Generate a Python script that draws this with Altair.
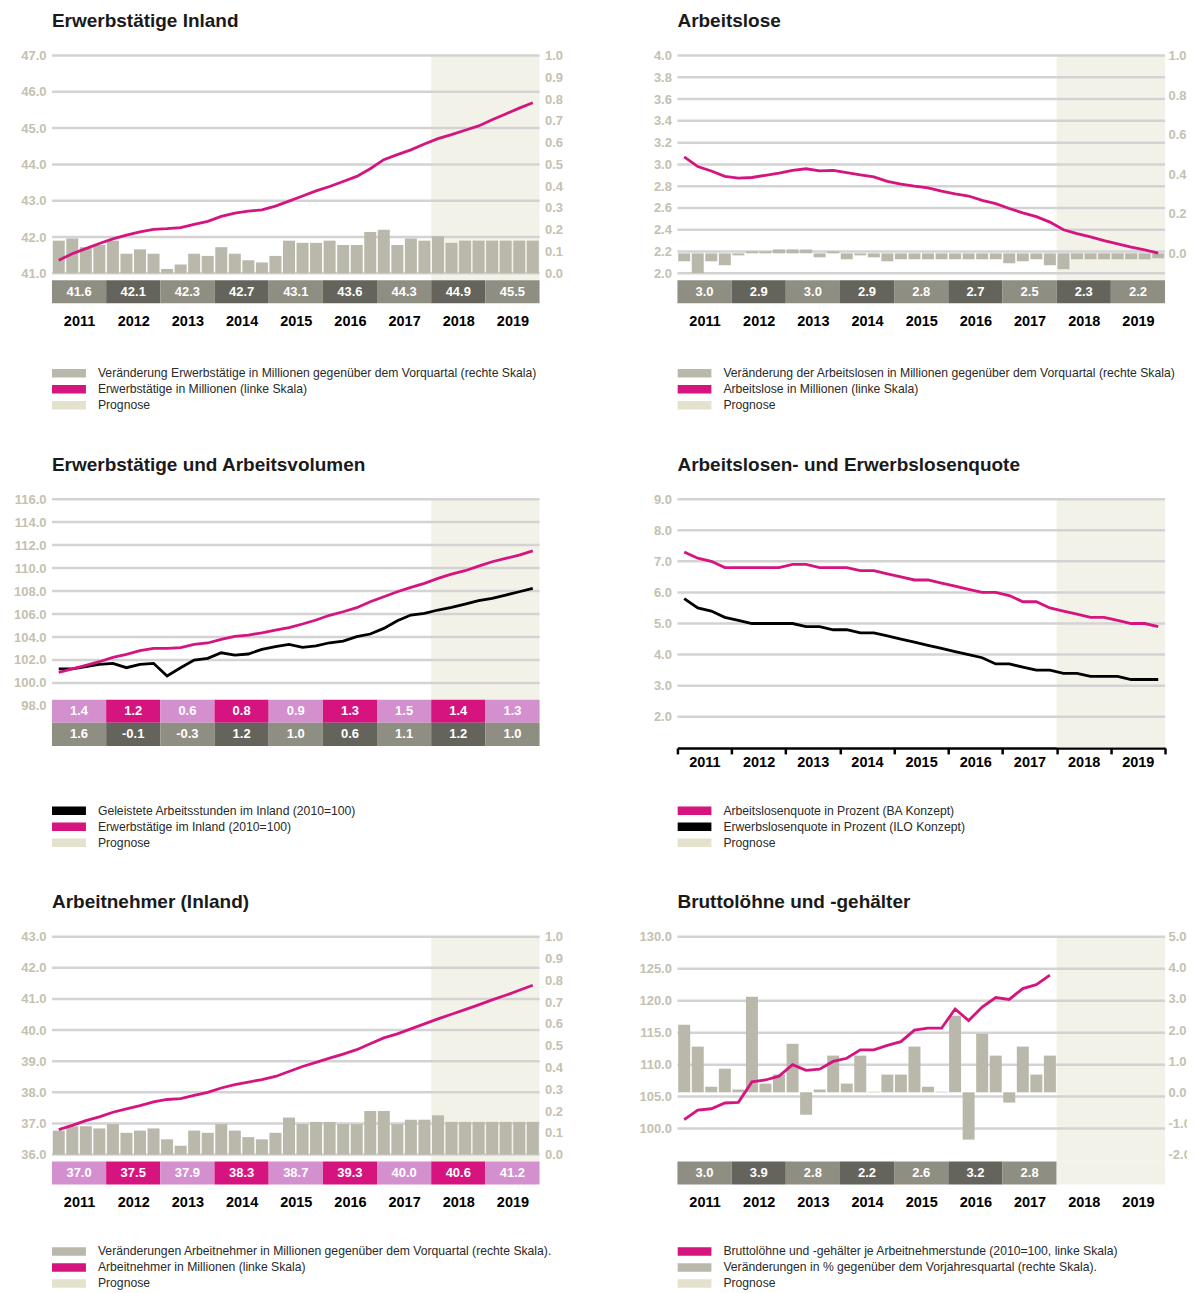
import altair as alt
import pandas as pd

# ---------------- data ----------------
YEARS = list(range(2011, 2020))
QUARTERS = [f"{y}-Q{q}" for y in YEARS for q in (1, 2, 3, 4)]
FORECAST_START = 2018

# Erwerbstätige Inland
EMP_LINE = [41.36, 41.54, 41.68, 41.82, 41.95, 42.05, 42.14, 42.21, 42.23, 42.26, 42.35, 42.43,
            42.57, 42.66, 42.71, 42.75, 42.85, 42.99, 43.13, 43.27, 43.39, 43.53, 43.67, 43.88,
            44.13, 44.27, 44.40, 44.56, 44.71, 44.82, 44.94, 45.06, 45.23, 45.39, 45.55, 45.70]
EMP_CHANGE = [0.15, 0.16, 0.12, 0.13, 0.15, 0.09, 0.11, 0.09, 0.02, 0.04, 0.09, 0.08,
              0.12, 0.09, 0.06, 0.05, 0.08, 0.15, 0.14, 0.14, 0.15, 0.13, 0.13, 0.19,
              0.20, 0.13, 0.16, 0.15, 0.17, 0.14, 0.15, 0.15, 0.15, 0.15, 0.15, 0.15]
EMP_ANNUAL = [41.6, 42.1, 42.3, 42.7, 43.1, 43.6, 44.3, 44.9, 45.5]

# Arbeitslose
UNEMP_LINE = [3.07, 2.98, 2.94, 2.89, 2.875, 2.88, 2.90, 2.92, 2.945, 2.96, 2.94, 2.945,
              2.925, 2.905, 2.885, 2.845, 2.82, 2.80, 2.785, 2.755, 2.73, 2.71, 2.67, 2.64,
              2.595, 2.555, 2.52, 2.47, 2.40, 2.365, 2.335, 2.30, 2.27, 2.24, 2.215, 2.185]
UNEMP_CHANGE = [-0.04, -0.10, -0.04, -0.06, -0.01, 0.01, 0.01, 0.02, 0.02, 0.02, -0.02, 0.01,
                -0.03, -0.01, -0.02, -0.04, -0.03, -0.03, -0.03, -0.03, -0.03, -0.03, -0.03, -0.03,
                -0.05, -0.04, -0.03, -0.06, -0.08, -0.03, -0.03, -0.03, -0.03, -0.03, -0.03, -0.025]
UNEMP_ANNUAL = [3.0, 2.9, 3.0, 2.9, 2.8, 2.7, 2.5, 2.3, 2.2]

# Erwerbstätige und Arbeitsvolumen (2010=100)
EMP_INDEX = [100.93, 101.22, 101.54, 101.85, 102.23, 102.49, 102.81, 103.01, 103.01, 103.07, 103.36, 103.48,
             103.80, 104.06, 104.17, 104.37, 104.60, 104.81, 105.13, 105.48, 105.89, 106.20, 106.55, 107.07,
             107.50, 107.94, 108.32, 108.67, 109.10, 109.48, 109.77, 110.17, 110.55, 110.84, 111.13, 111.50]
HOURS_INDEX = [101.22, 101.22, 101.42, 101.62, 101.71, 101.33, 101.62, 101.71, 100.61, 101.33, 102.00, 102.14,
               102.63, 102.43, 102.52, 102.93, 103.16, 103.36, 103.10, 103.22, 103.50, 103.65, 104.03, 104.26,
               104.75, 105.41, 105.91, 106.06, 106.35, 106.58, 106.87, 107.16, 107.36, 107.65, 107.94, 108.23]
EMP_GROWTH = [1.4, 1.2, 0.6, 0.8, 0.9, 1.3, 1.5, 1.4, 1.3]
HOURS_GROWTH = [1.6, -0.1, -0.3, 1.2, 1.0, 0.6, 1.1, 1.2, 1.0]

# Arbeitslosen- und Erwerbslosenquote
BA_RATE = [7.3, 7.1, 7.0, 6.8, 6.8, 6.8, 6.8, 6.8, 6.9, 6.9, 6.8, 6.8,
           6.8, 6.7, 6.7, 6.6, 6.5, 6.4, 6.4, 6.3, 6.2, 6.1, 6.0, 6.0,
           5.9, 5.7, 5.7, 5.5, 5.4, 5.3, 5.2, 5.2, 5.1, 5.0, 5.0, 4.9]
ILO_RATE = [5.8, 5.5, 5.4, 5.2, 5.1, 5.0, 5.0, 5.0, 5.0, 4.9, 4.9, 4.8,
            4.8, 4.7, 4.7, 4.6, 4.5, 4.4, 4.3, 4.2, 4.1, 4.0, 3.9, 3.7,
            3.7, 3.6, 3.5, 3.5, 3.4, 3.4, 3.3, 3.3, 3.3, 3.2, 3.2, 3.2]

# Arbeitnehmer (Inland)
EMPL_LINE = [36.80, 36.94, 37.09, 37.21, 37.36, 37.47, 37.57, 37.69, 37.77, 37.80, 37.90, 38.00,
             38.14, 38.25, 38.33, 38.41, 38.51, 38.67, 38.83, 38.96, 39.10, 39.23, 39.37, 39.56,
             39.75, 39.88, 40.04, 40.20, 40.36, 40.51, 40.66, 40.81, 40.97, 41.12, 41.28, 41.44]
EMPL_CHANGE = [0.11, 0.13, 0.13, 0.12, 0.14, 0.10, 0.11, 0.12, 0.07, 0.04, 0.11, 0.10,
               0.14, 0.11, 0.08, 0.07, 0.10, 0.17, 0.14, 0.15, 0.15, 0.14, 0.14, 0.20,
               0.20, 0.14, 0.16, 0.16, 0.18, 0.15, 0.15, 0.15, 0.15, 0.15, 0.15, 0.15]
EMPL_ANNUAL = [37.0, 37.5, 37.9, 38.3, 38.7, 39.3, 40.0, 40.6, 41.2]

# Bruttolöhne und -gehälter
WAGE_INDEX = [101.4, 102.9, 103.1, 104.0, 104.1, 107.3, 107.6, 108.2, 110.0, 109.1, 109.3, 110.5,
              111.0, 112.3, 112.3, 113.0, 113.6, 115.4, 115.7, 115.7, 118.7, 116.9, 119.0, 120.5,
              120.2, 121.9, 122.5, 124.0]
WAGE_CHANGE = [2.17, 1.47, 0.18, 0.76, 0.09, 3.07, 0.28, 0.57, 1.56, -0.72, 0.09, 1.18,
               0.28, 1.18, 0.02, 0.57, 0.57, 1.47, 0.18, 0.02, 2.46, -1.52, 1.88, 1.18,
               -0.33, 1.47, 0.57, 1.18]
WAGE_ANNUAL = [3.0, 3.9, 2.8, 2.2, 2.6, 3.2, 2.8]

# ---------------- styles ----------------
FONT = "Liberation Sans, Arial, sans-serif"
NARROW = "Liberation Sans Narrow, Arial Narrow, Liberation Sans, sans-serif"
MAGENTA = "#d5147f"
BARGRAY = "#bab8aa"
SHADE = "#e4e2cc"
SHADE_SOLID = "#f3f2e9"
GRID = "#d3d3d3"
AXIS_GRAY = "#c4c1b1"
BOX_LIGHT = "#8f8e82"
BOX_DARK = "#65645c"
BOX_PINK = "#d48fcf"
BLACK = "#000000"
GRAYS = (BOX_LIGHT, BOX_DARK)
PINKS = (BOX_PINK, MAGENTA)

W = 488
XDOM = [2011, 2020]
XSCALE = alt.Scale(domain=XDOM, nice=False, zero=False, padding=0)

AX = dict(domain=False, ticks=False, tickSize=0, grid=False, labelFont=FONT, labelFontSize=13,
          labelFontWeight="bold", labelColor=AXIS_GRAY, labelOverlap=False,
          labelExpr="replace(datum.label, '\u2212', '-')")

YEAR_AXIS = alt.Axis(orient="bottom", values=[y + 0.5 for y in YEARS],
                     labelExpr="'' + floor(datum.value)", domain=False, ticks=False,
                     tickSize=0, grid=False, labelPadding=11, labelFont=FONT,
                     labelFontSize=14.5, labelFontWeight="bold", labelColor=BLACK,
                     labelFlush=False, labelOverlap=False, title=None)


def left_axis(ticks):
    return alt.Axis(orient="left", values=ticks, format=".1f", labelPadding=6,
                    title=" ", titleX=-44, titleY=0, titleAngle=0, titleAlign="left",
                    titleBaseline="top", titleFontSize=1, **AX)


def right_axis(ticks, pad):
    return alt.Axis(orient="right", values=ticks, format=".1f", labelPadding=pad, title=None, **AX)


def qframe(values, name):
    qs = QUARTERS[:len(values)]
    return pd.DataFrame({
        "quarter": qs,
        "t": [int(q[:4]) + (int(q[-1]) - 0.5) / 4 for q in qs],
        "value": values,
        "zero": 0.0,
        "series": name,
    })


def make_legend(y):
    return alt.Legend(title=None, orient="none", legendX=0, legendY=y, direction="vertical",
                      symbolType="M-1,-0.25H1V0.25H-1Z", symbolSize=1156, symbolOpacity=1,
                      symbolStrokeWidth=0, clipHeight=16, rowPadding=0, labelOffset=12,
                      labelFont=NARROW, labelFontSize=12.2, labelColor="#2a2a2a",
                      labelLimit=700, padding=0)


def box_frame(rows):
    recs = []
    n = len(rows)
    for r, (vals, pal) in enumerate(rows):
        for i, y in enumerate(YEARS):
            has = i < len(vals)
            lo = n - 1 - r
            recs.append({"row": r, "lo": lo, "hi": lo + 1, "rmid": lo + 0.5,
                         "start": y, "end": y + 1, "mid": y + 0.5,
                         "label": f"{vals[i]:.1f}" if has else "",
                         "fill": pal[i % 2] if has else SHADE_SOLID})
    return pd.DataFrame(recs)


def text_mark(df):
    return alt.Chart(df).mark_text(font=FONT, fontSize=13, fontWeight="bold", color="white",
                                   align="center", baseline="middle")


def build_boxes(rows):
    df = box_frame(rows)
    yscale = alt.Scale(domain=list(range(len(rows))), paddingInner=0, paddingOuter=0)
    rect = alt.Chart(df).mark_rect().encode(
        x=alt.X("start:Q", scale=XSCALE, axis=YEAR_AXIS), x2=alt.X2("end"),
        y=alt.Y("row:O", scale=yscale, axis=None),
        fill=alt.Fill("fill:N", scale=None))
    text = text_mark(df).encode(
        x=alt.X("mid:Q", scale=XSCALE, axis=YEAR_AXIS),
        y=alt.Y("row:O", scale=yscale, axis=None),
        text="label:N")
    return alt.layer(rect, text).properties(width=W, height=23 * len(rows))


def inner_boxes(rows, rows_in_height):
    # box rows sit at the bottom of the panel, on a row-unit scale
    df = box_frame(rows)
    yscale = alt.Scale(domain=[0, rows_in_height], nice=False, zero=False)
    rect = alt.Chart(df).mark_rect().encode(
        x=alt.X("start:Q", scale=XSCALE, axis=YEAR_AXIS), x2=alt.X2("end"),
        y=alt.Y("lo:Q", scale=yscale, axis=None), y2=alt.Y2("hi"),
        fill=alt.Fill("fill:N", scale=None))
    text = text_mark(df).encode(
        x=alt.X("mid:Q", scale=XSCALE, axis=YEAR_AXIS),
        y=alt.Y("rmid:Q", scale=yscale, axis=None),
        text="label:N")
    return alt.layer(rect, text)


def build_main(title, height, left_dom, left_ticks, grid_vals, legend_labels, legend_colors,
               legend_y, lines, bars=None, right_dom=None, right_ticks=None, right_pad=5,
               xaxis=None, boxes=None):
    cscale = alt.Scale(domain=legend_labels, range=legend_colors)
    lscale = alt.Scale(domain=left_dom, nice=False, zero=False)
    laxis = left_axis(left_ticks)

    shade_df = pd.DataFrame({"start": [FORECAST_START], "end": [XDOM[1]],
                             "top": [left_dom[1]], "bottom": [left_dom[0]],
                             "series": [legend_labels[-1]]})
    shade = alt.Chart(shade_df).mark_rect(opacity=0.44).encode(
        x=alt.X("start:Q", scale=XSCALE, axis=xaxis), x2=alt.X2("end"),
        y=alt.Y("top:Q", scale=lscale, axis=laxis), y2=alt.Y2("bottom"),
        color=alt.Color("series:N", scale=cscale, legend=make_legend(legend_y)))

    grid_df = pd.DataFrame({"v": grid_vals, "a": XDOM[0], "b": XDOM[1]})
    grid = alt.Chart(grid_df).mark_rule(color=GRID, strokeWidth=2.5).encode(
        x=alt.X("a:Q", scale=XSCALE, axis=xaxis), x2=alt.X2("b"),
        y=alt.Y("v:Q", scale=lscale, axis=laxis))

    line_df = pd.concat([qframe(v, n) for v, n in lines])
    if bars is None:
        line = alt.Chart(line_df).mark_line(strokeWidth=2.8).encode(
            x=alt.X("t:Q", scale=XSCALE, axis=xaxis),
            y=alt.Y("value:Q", scale=lscale, axis=laxis),
            color=alt.Color("series:N", scale=cscale, legend=None))
        main = alt.layer(shade, grid, line)
        if boxes is not None:
            main = alt.layer(main, boxes).resolve_scale(y="independent")
    else:
        line = alt.Chart(line_df).mark_line(strokeWidth=2.8).encode(
            x=alt.X("t:Q", scale=XSCALE, axis=xaxis),
            y=alt.Y("value:Q", scale=lscale, axis=None),
            color=alt.Color("series:N", scale=cscale, legend=None))
        rscale = alt.Scale(domain=right_dom, nice=False, zero=False)
        bar_df = qframe(bars[0], bars[1])
        bar = alt.Chart(bar_df).mark_bar(size=12).encode(
            x=alt.X("t:Q", scale=XSCALE, axis=xaxis),
            y=alt.Y("value:Q", scale=rscale, axis=right_axis(right_ticks, right_pad)),
            y2=alt.Y2("zero"),
            color=alt.Color("series:N", scale=cscale, legend=None))
        main = alt.layer(alt.layer(shade, grid), bar, line).resolve_scale(y="independent")
    return main.properties(
        width=W, height=height,
        title=alt.Title(text=title, anchor="start", frame="group", orient="top", offset=0.5, dy=-3,
                        baseline="alphabetic", font=FONT, fontSize=19, fontWeight="bold",
                        color="#1a1a1a"))


# ---------------- panels ----------------
L1 = ["Veränderung Erwerbstätige in Millionen gegenüber dem Vorquartal (rechte Skala)",
      "Erwerbstätige in Millionen (linke Skala)", "Prognose"]
p1_main = build_main("Erwerbstätige Inland", 225, [40.807, 47], [41, 42, 43, 44, 45, 46, 47],
                     [41, 42, 43, 44, 45, 46, 47], L1, [BARGRAY, MAGENTA, SHADE], 310,
                     lines=[(EMP_LINE, L1[1])], bars=(EMP_CHANGE, L1[0]),
                     right_dom=[-0.0321, 1.0],
                     right_ticks=[0, 0.1, 0.2, 0.3, 0.4, 0.5, 0.6, 0.7, 0.8, 0.9, 1.0])
p1 = alt.vconcat(p1_main, build_boxes([(EMP_ANNUAL, GRAYS)]), spacing=0, bounds="flush")

L2 = ["Veränderung der Arbeitslosen in Millionen gegenüber dem Vorquartal (rechte Skala)",
      "Arbeitslose in Millionen (linke Skala)", "Prognose"]
T2 = [2.0, 2.2, 2.4, 2.6, 2.8, 3.0, 3.2, 3.4, 3.6, 3.8, 4.0]
p2_main = build_main("Arbeitslose", 225, [1.9358, 4.0], T2, T2, L2, [BARGRAY, MAGENTA, SHADE], 310,
                     lines=[(UNEMP_LINE, L2[1])], bars=(UNEMP_CHANGE, L2[0]),
                     right_dom=[-0.1362, 1.0], right_ticks=[0, 0.2, 0.4, 0.6, 0.8, 1.0],
                     right_pad=3)
p2 = alt.vconcat(p2_main, build_boxes([(UNEMP_ANNUAL, GRAYS)]), spacing=0, bounds="flush")

L3 = ["Geleistete Arbeitsstunden im Inland (2010=100)", "Erwerbstätige im Inland (2010=100)", "Prognose"]
p3_main = build_main("Erwerbstätige und Arbeitsvolumen", 247, [94.522, 116],
                     [98, 100, 102, 104, 106, 108, 110, 112, 114, 116],
                     [100, 102, 104, 106, 108, 110, 112, 114, 116], L3, [BLACK, MAGENTA, SHADE], 304,
                     lines=[(HOURS_INDEX, L3[0]), (EMP_INDEX, L3[1])],
                     boxes=inner_boxes([(EMP_GROWTH, PINKS), (HOURS_GROWTH, GRAYS)], 10.67))
p3 = alt.vconcat(p3_main, bounds="flush")

L4 = ["Arbeitslosenquote in Prozent (BA Konzept)", "Erwerbslosenquote in Prozent (ILO Konzept)", "Prognose"]
X4 = alt.Axis(orient="bottom", values=YEARS + [2020],
              labelExpr="datum.value >= 2020 ? '' : '' + datum.value", labelOffset=27,
              labelFlush=False, labelOverlap=False, domain=True, domainColor=BLACK, domainWidth=2.5,
              ticks=True, tickColor=BLACK, tickWidth=2.5, tickSize=6, labelPadding=2,
              labelFont=FONT, labelFontSize=14.5, labelFontWeight="bold", labelColor=BLACK,
              grid=False, title=None)
p4_main = build_main("Arbeitslosen- und Erwerbslosenquote", 249, [1, 9], [2, 3, 4, 5, 6, 7, 8, 9],
                     [2, 3, 4, 5, 6, 7, 8, 9], L4, [MAGENTA, BLACK, SHADE], 304,
                     lines=[(BA_RATE, L4[0]), (ILO_RATE, L4[1])], xaxis=X4)
p4 = alt.vconcat(p4_main, bounds="flush")

L5 = ["Veränderungen Arbeitnehmer in Millionen gegenüber dem Vorquartal (rechte Skala).",
      "Arbeitnehmer in Millionen (linke Skala)", "Prognose"]
p5_main = build_main("Arbeitnehmer (Inland)", 225, [35.775, 43], [36, 37, 38, 39, 40, 41, 42, 43],
                     [36, 37, 38, 39, 40, 41, 42, 43], L5, [BARGRAY, MAGENTA, SHADE], 307,
                     lines=[(EMPL_LINE, L5[1])], bars=(EMPL_CHANGE, L5[0]),
                     right_dom=[-0.0321, 1.0],
                     right_ticks=[0, 0.1, 0.2, 0.3, 0.4, 0.5, 0.6, 0.7, 0.8, 0.9, 1.0])
p5 = alt.vconcat(p5_main, build_boxes([(EMPL_ANNUAL, PINKS)]), spacing=0, bounds="flush")

L6 = ["Bruttolöhne und -gehälter je Arbeitnehmerstunde (2010=100, linke Skala)",
      "Veränderungen in % gegenüber dem Vorjahresquartal (rechte Skala).", "Prognose"]
p6_main = build_main("Bruttolöhne und -gehälter", 225, [94.84, 130], [100, 105, 110, 115, 120, 125, 130],
                     [100, 105, 110, 115, 120, 125, 130], L6, [MAGENTA, BARGRAY, SHADE], 307,
                     lines=[(WAGE_INDEX, L6[0])], bars=(WAGE_CHANGE, L6[1]),
                     right_dom=[-2.2254, 5.0], right_ticks=[-2, -1, 0, 1, 2, 3, 4, 5],
                     right_pad=3)
p6 = alt.vconcat(p6_main, build_boxes([(WAGE_ANNUAL, GRAYS)]), spacing=0, bounds="flush")

row1 = alt.hconcat(p1, p2, spacing=70).resolve_scale(color="independent")
row2 = alt.hconcat(p3, p4, spacing=92).resolve_scale(color="independent")
row3 = alt.hconcat(p5, p6, spacing=70).resolve_scale(color="independent")

chart = alt.vconcat(row1, row2, row3, spacing=42).resolve_scale(color="independent").properties(
    padding={"left": 0, "top": 3, "right": -5, "bottom": 0}
).configure_view(stroke=None)

chart.save("out.html", embed_options={"renderer": "svg", "actions": False})
